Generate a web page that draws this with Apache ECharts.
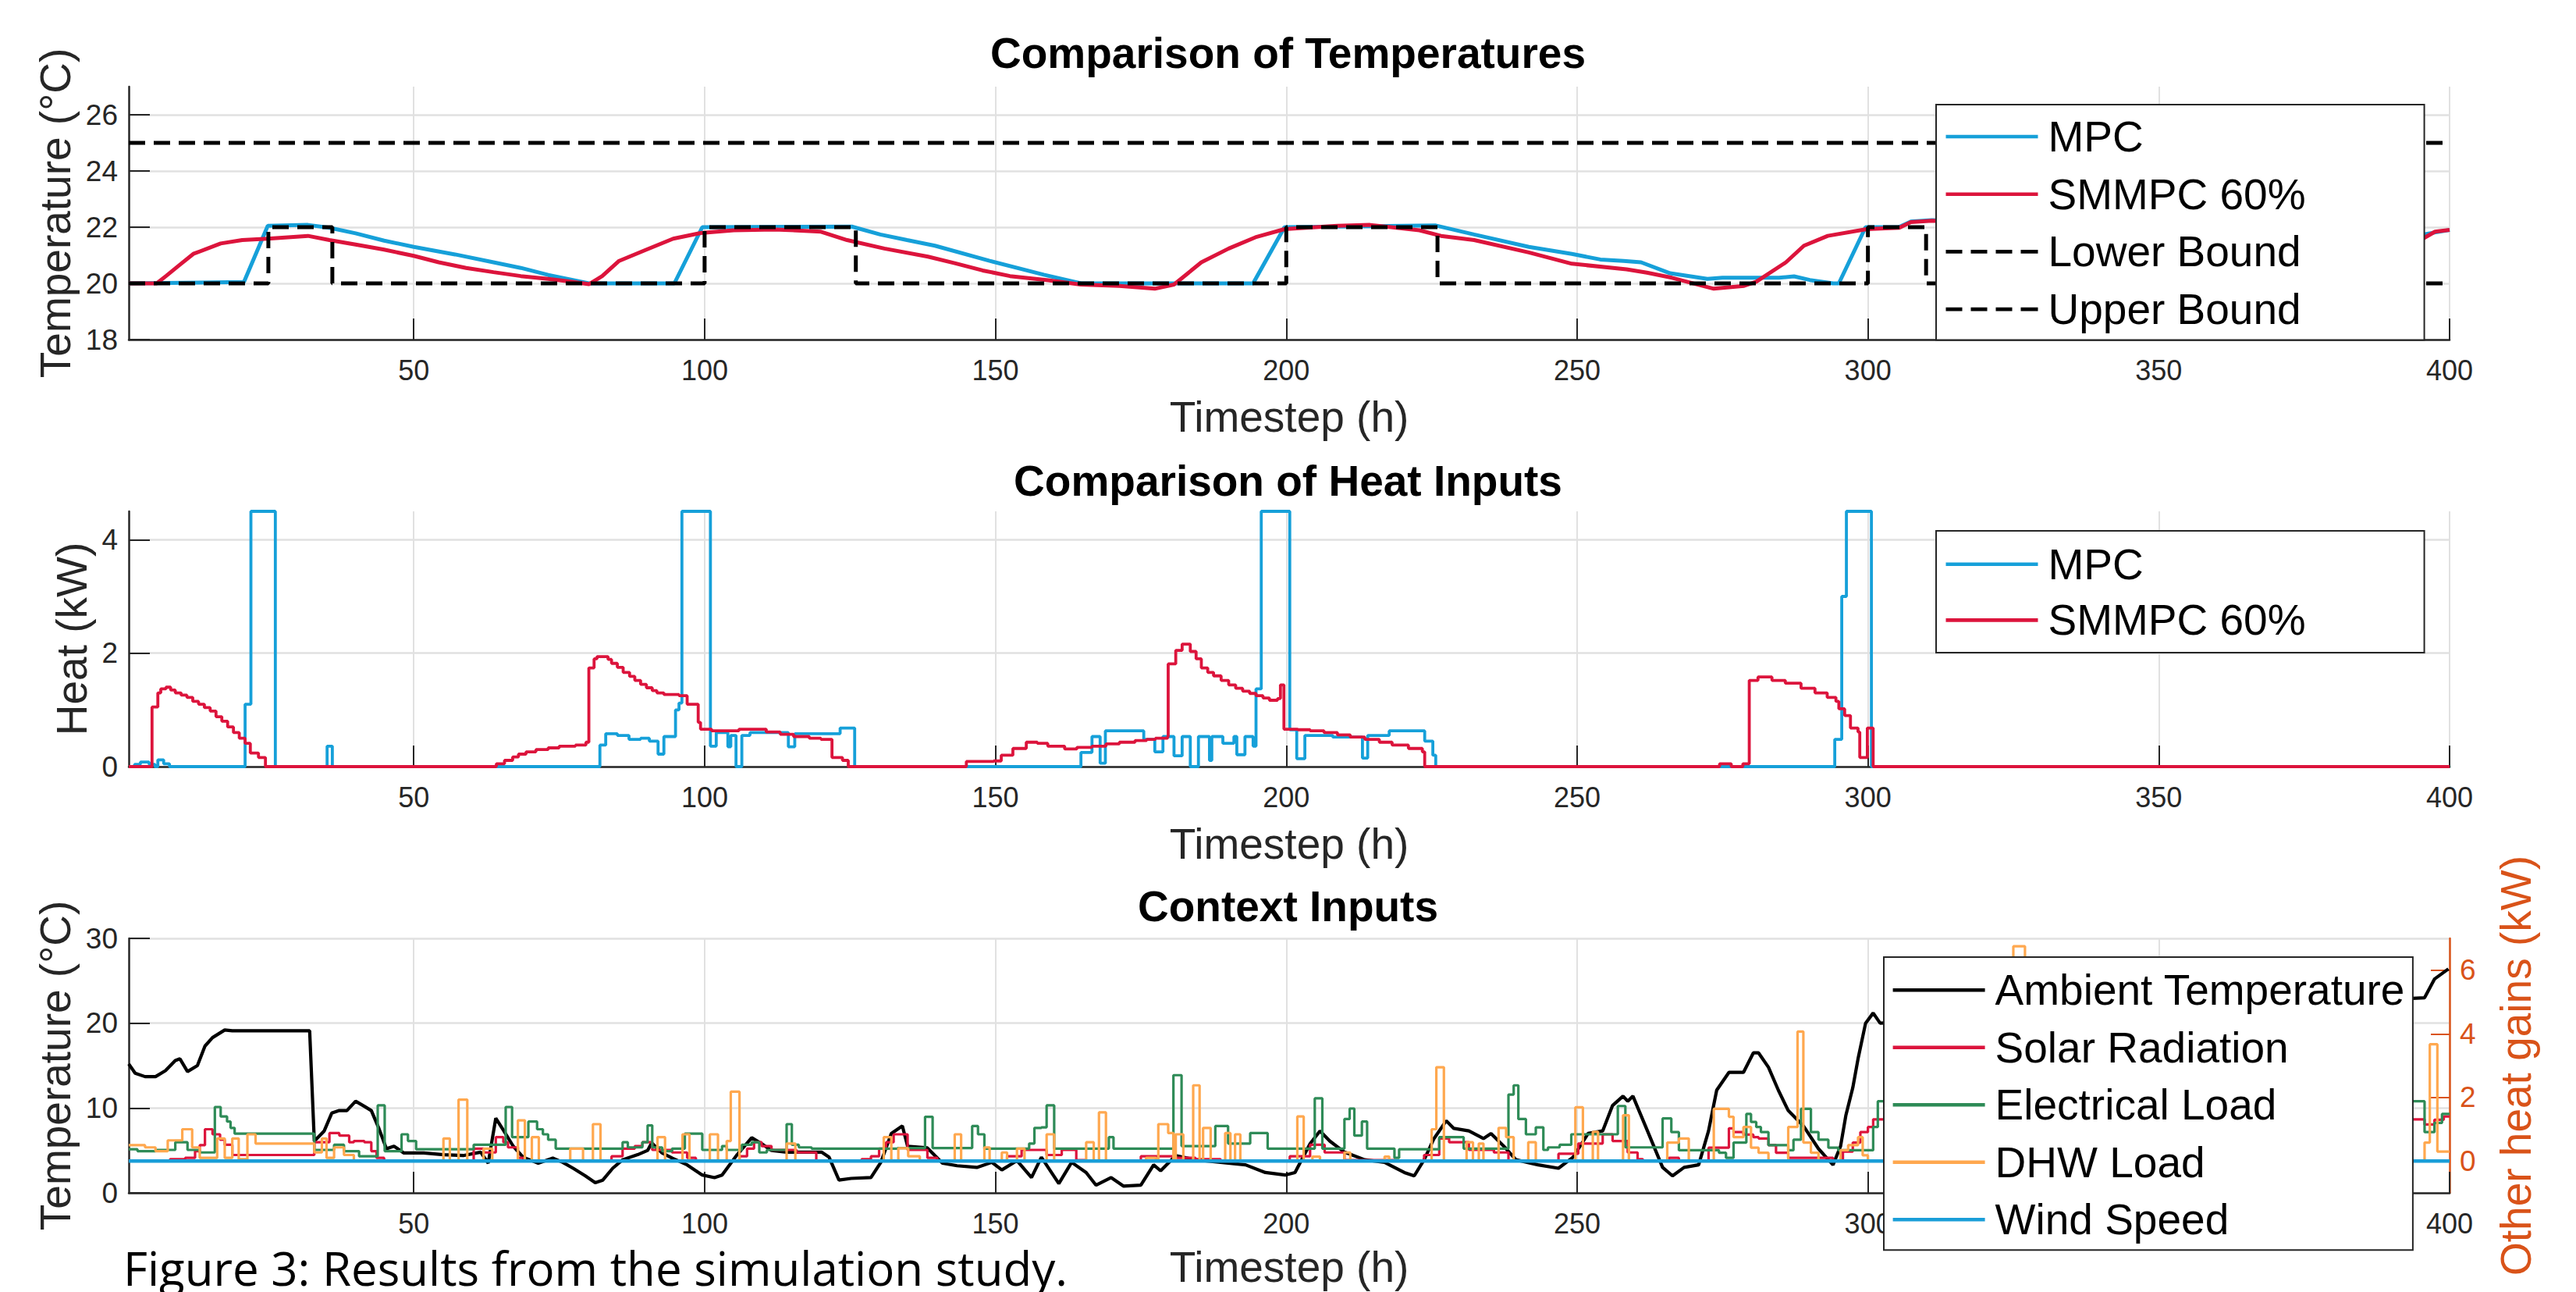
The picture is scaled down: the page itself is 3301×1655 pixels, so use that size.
<!DOCTYPE html>
<html><head><meta charset="utf-8">
<script src="https://cdn.jsdelivr.net/npm/echarts@6/dist/echarts.min.js"></script>
<style>html,body{margin:0;padding:0;background:#fff}#c{width:3301px;height:1655px}</style>
</head><body><div id="c"></div>
<script>
// ---------- tick labels ----------
const xTicks = [50,100,150,200,250,300,350,400];
const xLabelsCtx = [50,100,150,200,250,300,400];   // "350" is hidden behind the legend in the bottom panel
const tempTicks = [18,20,22,24,26];
const heatTicks = [0,2,4];
const ctxTempTicks = [0,10,20,30];
const gainTicks = [0,2,4,6];

// ---------- Panel 1 : Comparison of Temperatures ----------
const mpcTemp = [[1,20],[20.8,20.05],[24.9,22.05],[31.8,22.08],[35.5,21.98],[40,21.78],[44.9,21.52],[50,21.3],[57.1,21.03],[63.7,20.75],[68.4,20.55],[73.1,20.3],[80.1,20.0],[94.8,20.0],[99.6,22.0],[125.3,22.02],[130.2,21.74],[134.8,21.54],[139.6,21.34],[149,20.8],[158.3,20.31],[164.7,20.0],[194.3,20.0],[199.7,22.0],[212,22.03],[225.7,22.06],[232.3,21.74],[241.7,21.3],[249.1,21.05],[254,20.85],[258,20.8],[261,20.75],[266,20.36],[272.4,20.16],[275,20.2],[284.7,20.2],[287.3,20.25],[290,20.12],[294,20.0],[295,20.0],[299.6,22.0],[305.3,22.0],[307.4,22.2],[311,22.25],[395.4,21.74],[400,21.9]];
const smmpcTemp = [[1,20],[5.8,20.0],[7.4,20.26],[9.7,20.65],[12.1,21.05],[16.8,21.42],[20.5,21.54],[24.9,21.59],[31.8,21.69],[35.5,21.54],[40,21.38],[44.9,21.2],[50,20.98],[54.3,20.75],[59,20.55],[63.7,20.4],[68.4,20.26],[73.1,20.16],[77,20.06],[80.1,19.97],[82.4,20.26],[85.3,20.8],[90,21.2],[94.6,21.59],[99.3,21.79],[105,21.89],[112,21.92],[120,21.84],[124.5,21.54],[130.9,21.24],[138.4,20.95],[143,20.72],[147.8,20.46],[152.5,20.26],[159.1,20.11],[164.7,19.96],[171.3,19.91],[177.4,19.81],[180.7,19.96],[185.4,20.75],[190.1,21.24],[194.7,21.64],[199.7,21.93],[208.8,22.05],[214.4,22.08],[222.9,21.89],[226.6,21.69],[232.3,21.54],[241.7,21.1],[249.1,20.7],[258.5,20.5],[262,20.38],[266.3,20.2],[273.5,19.81],[278.7,19.91],[280.8,20.06],[285.9,20.75],[289,21.34],[293.1,21.69],[299.8,21.93],[305.4,21.98],[307.4,22.18],[311,22.23],[395.4,21.59],[397.5,21.84],[400,21.9]];
const lowerBound = [[1,20],[25,20],[25,22],[36,22],[36,20],[100,20],[100,22],[126,22],[126,20],[200,20],[200,22],[226,22],[226,20],[300,20],[300,22],[310,22],[310,20],[400,20]];
const upperBound = [[1,25],[400,25]];

// ---------- Panel 2 : Comparison of Heat Inputs (step values) ----------
const mpcHeat = [[1,0],[2,0.04],[3,0.08],[4.5,0.04],[5.5,0],[6,0.12],[7,0.05],[8,0],[21,1.1],[22,4.5],[26.2,0],[35.1,0.36],[36,0],[82,0.38],[83,0.58],[85,0.55],[87,0.48],[89,0.5],[90.5,0.45],[92,0.22],[93,0.53],[95,1.0],[95.6,1.12],[96.1,4.5],[101,0.36],[102,0.6],[104,0.35],[104.5,0.55],[105.4,0],[106.4,0.55],[107.8,0.6],[114.4,0.35],[115.5,0.58],[123.3,0.68],[125.8,0],[164.7,0.25],[166.6,0.53],[168,0.06],[168.9,0.63],[175.5,0.48],[177.4,0.26],[178.8,0.53],[180.7,0.19],[182.1,0.53],[183.5,0],[184.9,0.53],[186.8,0.11],[187.2,0.53],[189.1,0.41],[191,0.53],[191.5,0.21],[192.9,0.53],[194.3,0.36],[194.8,1.37],[195.7,4.5],[200.6,0.65],[201.8,0.14],[203.2,0.55],[208,0.52],[213.1,0.15],[214,0.55],[217.7,0.63],[223.8,0.45],[225.2,0.2],[225.7,0],[294.3,0.48],[295.5,3.0],[296.3,4.5],[300.6,0],[400,0]];
const smmpcHeat = [[1,0],[5,1.05],[6,1.3],[6.5,1.37],[7.4,1.4],[8.2,1.35],[9,1.3],[10,1.26],[11,1.22],[12,1.15],[13,1.1],[14,1.04],[15,0.98],[16,0.88],[17,0.8],[18,0.7],[19,0.6],[20,0.5],[21,0.41],[21.9,0.24],[23.3,0.16],[24.5,0],[64.2,0.05],[65.6,0.11],[67,0.17],[68,0.22],[69.3,0.26],[71,0.3],[73.1,0.33],[75,0.36],[77.8,0.38],[79.6,0.43],[80.1,1.74],[81,1.9],[81.5,1.94],[83.4,1.89],[84,1.82],[85,1.75],[86,1.66],[87.1,1.59],[88,1.52],[89,1.45],[90,1.39],[91,1.34],[91.8,1.3],[93,1.27],[95.6,1.25],[97,1.1],[98.9,0.78],[99.3,0.66],[101.2,0.63],[105.9,0.66],[110.6,0.61],[113,0.57],[115.3,0.53],[118,0.5],[120,0.48],[121.9,0.16],[123.7,0.11],[124.7,0],[145,0.09],[149.7,0.1],[151,0.2],[153,0.32],[155.3,0.43],[157.2,0.41],[159,0.36],[161.9,0.31],[164,0.34],[166.6,0.36],[169,0.4],[171.3,0.43],[174,0.46],[176,0.48],[177.5,0.5],[179.6,0.53],[179.7,1.81],[181,2.05],[182.1,2.16],[183.5,2.03],[184.5,1.9],[185.4,1.74],[186.5,1.66],[187.5,1.6],[188.8,1.52],[190.1,1.44],[191.3,1.38],[192.5,1.33],[193.7,1.29],[194.8,1.25],[196,1.21],[197.1,1.17],[198.5,1.2],[199,1.44],[199.6,0.66],[202,0.65],[204.1,0.63],[206.5,0.6],[208.8,0.56],[211,0.52],[213.5,0.48],[216,0.43],[218.2,0.38],[221,0.32],[223.4,0.26],[223.8,0],[274.5,0.05],[276.5,0],[278.5,0.05],[279.6,1.52],[281.1,1.58],[283.5,1.52],[285.8,1.47],[288.5,1.38],[290.9,1.3],[293,1.22],[294.5,1.15],[295,1.02],[296,0.9],[297,0.68],[298.3,0.61],[298.6,0.16],[299.9,0.68],[300.9,0],[400,0]];

// ---------- Panel 3 : Context Inputs ----------
const ambientTemp = [[1,15.2],[2.1,14.1],[3.8,13.7],[5.6,13.7],[7.3,14.4],[9,15.6],[9.8,15.8],[11.1,14.3],[12.8,15.0],[14.1,17.3],[15.4,18.3],[17.5,19.2],[18.8,19.1],[32.1,19.1],[32.9,6.1],[34.6,7.3],[35.9,9.4],[37.2,9.7],[38.5,9.7],[40,10.8],[41.5,10.2],[42.7,9.7],[44,7.6],[45.3,5.2],[46.6,5.5],[48.3,4.7],[51.7,4.7],[55.1,4.5],[58.5,4.4],[61.5,4.8],[62.8,3.5],[64.1,8.8],[65.4,7.4],[67.1,5.5],[68.8,4.2],[71.4,3.5],[73.9,4.1],[75.6,3.6],[77.4,2.9],[79.5,2.0],[81.2,1.2],[82.5,1.5],[84.2,2.9],[85.9,3.9],[88.5,4.5],[90.2,5.0],[90.9,5.9],[92.7,4.7],[94.4,4.1],[97,3.3],[99.6,2.1],[101.7,1.8],[103,2.1],[105.6,4.5],[108.1,6.5],[109.8,5.8],[111.5,5.0],[114.1,4.8],[120.1,4.8],[121.4,4.2],[123.1,1.5],[125.2,1.7],[128.6,1.8],[130.3,3.6],[132.1,7.0],[134,7.9],[134.9,5.5],[138.3,5.3],[140.9,3.5],[143.4,3.2],[146.8,3.0],[149.4,3.6],[151.1,2.7],[153.7,3.8],[156.2,1.8],[157.9,4.2],[160.9,1.1],[163.1,3.6],[165.6,2.4],[167.3,0.9],[169.9,1.8],[172,0.8],[175,0.9],[177.2,3.3],[178.4,2.6],[181,4.4],[184.4,3.9],[188.7,3.6],[193,3.3],[196.4,2.4],[199.8,2.1],[201.5,2.4],[204.1,5.8],[205.8,7.3],[207.5,6.1],[210,4.8],[213.5,3.9],[216.9,3.6],[220.3,2.4],[222,2.0],[223.7,3.9],[225.4,6.4],[227.5,8.5],[228.8,7.6],[231.4,7.3],[233.9,6.4],[235.2,7.0],[237.4,5.5],[239.5,3.9],[243.3,3.3],[246.8,2.9],[249.3,4.2],[251.9,7.0],[254.4,7.3],[256.1,10.3],[257.9,11.4],[258.7,10.8],[259.6,11.4],[262.1,7.3],[264.7,3.0],[266.4,2.0],[268.4,3.0],[270.9,3.3],[272.6,7.3],[274,12.1],[275.2,13.3],[276.1,14.2],[278.6,14.2],[280.3,16.5],[281.2,16.5],[282.9,14.8],[284.6,12.1],[286.3,9.7],[288.9,7.9],[291.5,5.2],[293.2,3.9],[294,3.3],[295.3,5.5],[296.2,9.1],[297.4,12.4],[298.3,15.8],[299.6,20],[300.9,21.2],[302.1,20],[395.7,23],[397.4,25.2],[399.8,26.4]];
const solarGain = [[1,0],[8.1,0.06],[10.7,0.1],[12.4,0.31],[13.2,0.5],[14.1,1.0],[15.4,0.84],[16.7,0.67],[17.5,0.51],[18.8,0.19],[32.9,0.59],[35.5,0.88],[37.2,0.8],[38.9,0.59],[39.7,0.63],[41.5,0.59],[42.7,0.31],[43.6,0.1],[44.9,0],[60.3,0.39],[62,0.27],[64.1,0.75],[65.4,0.59],[66.2,0.43],[67.9,0.1],[68.8,0],[84,0.15],[85.9,0.39],[88,0.47],[89.3,0.59],[91,0.35],[94.4,0.27],[97,0.1],[98.5,0],[106,0.15],[107.3,0.39],[108.5,0.59],[109.8,0.47],[111.5,0.35],[115.8,0.27],[119.2,0],[127,0.06],[128.6,0.15],[130,0.39],[131.2,0.59],[132.5,0.84],[134.9,0.35],[138.3,0.1],[140,0],[152,0.15],[154.5,0.35],[158.8,0.19],[161.4,0.35],[163.9,0.03],[165.6,0],[175,0.15],[181,0.1],[184.4,0.06],[188.7,0],[200.6,0.15],[204.1,0.51],[206.6,0.27],[210,0.03],[218.6,0],[223.7,0.19],[226.3,0.71],[228,0.59],[231.4,0.35],[235.7,0.27],[238.2,0],[246.8,0.23],[250.2,0.55],[254.4,0.84],[256.1,0.63],[258.7,0.27],[260.4,0.06],[261.3,0],[265.8,0.1],[267.5,0],[272.6,0.42],[276.1,1.03],[276.9,0.91],[278.6,0.83],[280.3,0.75],[281.2,0.71],[282.9,0.5],[284.2,0.26],[286.3,0.1],[294,0],[295.7,0.3],[297.4,0.58],[298.7,0.91],[300,1.07],[300.9,1.31],[395.7,1.15],[397.4,1.3],[399,1.4],[400,1.4]];
const elecLoad = [[1,0.37],[2.5,0.31],[5.6,0.35],[9,0.59],[11.1,0.35],[13.2,0.27],[15.8,1.7],[16.8,1.4],[17.9,1.24],[18.5,1.04],[19.2,0.86],[32.9,0.35],[36.3,0.51],[38,0.31],[40.6,0.15],[43.8,1.75],[45,0.31],[47.9,0.84],[49,0.63],[50.4,0.37],[60.3,0.51],[65.8,1.7],[66.9,0.75],[69.7,1.24],[71.2,1.0],[72.2,0.84],[73.1,0.67],[74.4,0.39],[85.9,0.59],[86.8,0.43],[89.3,0.59],[90.2,1.12],[91,0.43],[92.7,0.31],[94.4,0.39],[96.6,0.86],[99.6,0.35],[103,0.47],[103.8,0.35],[106.4,0.51],[108.1,0.59],[109.4,0.27],[110.7,0.35],[114.1,1.16],[115,0.51],[116.2,0.43],[118.4,0.39],[133.2,0.41],[137.9,1.39],[139.2,0.41],[146,1.1],[147,0.84],[148.1,0.39],[155.8,0.55],[156.7,1.04],[157.9,1.06],[158.8,1.75],[160.1,0.39],[169.5,0.75],[170.3,0.39],[180.6,2.7],[182,0.47],[187.8,1.1],[190,0.55],[193.8,0.88],[196.8,0.39],[204.9,1.97],[206.2,0.39],[210,1.32],[210.9,1.65],[211.7,0.8],[213,1.24],[213.9,0.39],[218.6,0.1],[219.4,0.37],[226.3,0.75],[230.5,0.39],[238.2,2.09],[239.1,2.38],[239.9,1.32],[241.2,0.84],[242.9,1.06],[244.2,0.35],[245,0.43],[247,0.51],[249,0.84],[257,1.73],[258.3,0.43],[264.7,1.34],[266.2,0.91],[267.5,0.34],[274.4,0.26],[275.6,0.1],[276.9,0.58],[279.1,1.48],[279.9,1.23],[280.8,1.07],[281.6,0.91],[282.9,0.5],[286.3,0.34],[287.2,0.67],[288.5,1.64],[290.2,0.91],[291.5,0.67],[293.2,0.42],[294.9,0.34],[300.9,1.07],[301.7,1.88],[395.7,0.91],[397.4,1.2],[398.7,1.48],[400,1.48]];
const dhwLoad = [[1,0.5],[3.8,0.43],[5.6,0.31],[7.7,0.65],[10.2,1.0],[11.9,0.43],[13.2,0.1],[16.2,0.71],[17.5,0.1],[18.8,0.71],[19.9,0.06],[21.4,0.84],[22.8,0.55],[32.9,0.27],[34.2,0.71],[35,0.1],[36.3,0.43],[38,0.19],[39.7,0],[55.1,0.71],[56.2,0],[57.7,1.93],[59.2,0],[62,0.39],[63.5,0],[67.9,1.28],[69.1,0],[70.3,0.75],[71.5,0],[76.9,0.39],[79.1,0],[80.8,1.16],[82.1,0],[91.9,0.75],[93.2,0],[96.2,0.84],[97.4,0],[100.9,0.84],[102.3,0],[103.8,0.63],[104.5,2.18],[106,0],[114.1,0.55],[115.6,0],[130.8,0.75],[132.1,0],[133.3,0.4],[135,0.15],[137,0],[143,0.84],[144.1,0],[148.1,0.43],[149,0],[151.1,0.27],[152,0],[153.7,0.39],[155,0],[158.8,0.84],[160.1,0],[165.6,0.59],[166.9,0],[167.8,1.53],[169,0],[175.9,0.1],[177.6,0],[178,1.16],[179.7,0.88],[180.6,0],[181,0.84],[182.3,0],[184,2.38],[185.1,0],[185.7,1.04],[187,0],[189.5,0.88],[190.4,0],[191.2,0.84],[192.1,0],[201.9,1.4],[203,0],[204.5,0.14],[205.8,0],[210,0.27],[211,0],[216.9,0.14],[217.7,0],[225,1.0],[225.8,2.95],[227.1,0],[231,0.59],[232.1,0],[233.1,0.55],[233.9,0],[236.5,1.04],[237.8,0.75],[239.1,0],[241.6,0.59],[242.9,0],[249.7,1.69],[251,0],[252.7,0.92],[253.6,0],[257.9,1.44],[258.9,0],[265.5,0.58],[267.5,0.71],[269.2,0],[273.5,1.64],[276.1,1.39],[276.9,0.75],[278.6,1.07],[279.9,0.42],[281.2,0.26],[282.9,0],[286.3,1.07],[287.9,4.07],[288.9,0.58],[290.2,0.26],[291.5,0],[295.3,0.34],[296.6,0.5],[298.3,0.75],[299.1,0.18],[300,0],[325,6.75],[327,0],[395.7,0.58],[396.6,3.67],[397.9,0.3],[400,0.3]];
const windSpeed = [[1,0],[400,0]];

// ---------- styling ----------
const AX = '#262626';
const GRIDC = '#e1e1e1';
const FONT = '"Liberation Sans", Arial, Helvetica, sans-serif';
const C_MPC = '#16a0d9', C_SM = '#dc143c', C_GREEN = '#2e8b57', C_ORANGE = '#ffa84f', C_WIND = '#1a9ed8', C_RIGHT = '#d95319';
// legend line samples (aspect kept, so they stay thin lines)
const ICON_SOLID = 'path://M0,0h118v4.6h-118z';
const ICON_DASH = 'path://M0,0h21v4.6h-21zM32,0h21v4.6h-21zM64,0h21v4.6h-21zM96,0h22v4.6h-22z';

function xAx(gi, labels, gap){
  return {type:'value', gridIndex:gi, min:1, max:400,
    name:'Timestep (h)', nameLocation:'middle', nameGap:gap,
    nameTextStyle:{fontSize:55, color:AX, fontFamily:FONT},
    axisLine:{show:true, onZero:false, lineStyle:{color:AX, width:2.5}},
    axisTick:{show:true, inside:true, length:27, customValues:xTicks, lineStyle:{color:AX, width:2}},
    axisLabel:{customValues:labels, fontSize:36, color:AX, margin:21, fontFamily:FONT},
    splitLine:{show:true, lineStyle:{color:GRIDC, width:2}}};
}
function yAx(gi, min, max, ticks, name, gap){
  return {type:'value', gridIndex:gi, min:min, max:max,
    name:name, nameLocation:'middle', nameGap:gap, nameRotate:90,
    nameTextStyle:{fontSize:55, color:AX, fontFamily:FONT},
    axisLine:{show:true, onZero:false, lineStyle:{color:AX, width:2.5}},
    axisTick:{show:true, inside:true, length:27, customValues:ticks, lineStyle:{color:AX, width:2}},
    axisLabel:{customValues:ticks, fontSize:37, color:AX, margin:14, fontFamily:FONT},
    splitLine:{show:true, lineStyle:{color:GRIDC, width:2.5}}};
}
function ln(name, data, xi, yi, color, width, extra){
  return Object.assign({type:'line', name:name, data:data, xAxisIndex:xi, yAxisIndex:yi,
    symbol:'none', showSymbol:false, silent:true, animation:false,
    lineStyle:{color:color, width:width}, itemStyle:{color:color, borderWidth:0}}, extra || {});
}
function legendBox(left, top, items, gap, pad){
  return {orient:'vertical', left:left, top:top,
    data:items.map(function(it){ return {name:it[0], icon:it[1]}; }),
    itemWidth:118, itemHeight:55, itemGap:gap, symbolKeepAspect:true,
    padding:pad, backgroundColor:'#ffffff', borderColor:AX, borderWidth:2, borderRadius:0,
    selectedMode:false, itemStyle:{borderWidth:0},
    textStyle:{fontSize:55, lineHeight:55, color:'#000', fontFamily:FONT, padding:[0,0,0,8]}};
}

const chart = echarts.init(document.getElementById('c'), null, {renderer:'svg', width:3301, height:1655});
chart.setOption({
  animation:false,
  backgroundColor:'#ffffff',
  title:[
    {text:'Comparison of Temperatures', left:'center', top:40, padding:0, textStyle:{fontSize:55, fontWeight:'bold', color:'#000', fontFamily:FONT}},
    {text:'Comparison of Heat Inputs', left:'center', top:588, padding:0, textStyle:{fontSize:55, fontWeight:'bold', color:'#000', fontFamily:FONT}},
    {text:'Context Inputs', left:'center', top:1133, padding:0, textStyle:{fontSize:55, fontWeight:'bold', color:'#000', fontFamily:FONT}}
  ],
  grid:[
    {left:165, right:162, top:111, height:324, outerBoundsMode:'none', containLabel:false},
    {left:165, right:162, top:655, height:327, outerBoundsMode:'none', containLabel:false},
    {left:165, right:162, top:1202, height:326, outerBoundsMode:'none', containLabel:false}
  ],
  xAxis:[xAx(0, xTicks, 71), xAx(1, xTicks, 71), xAx(2, xLabelsCtx, 67)],
  yAxis:[
    yAx(0, 18, 27, tempTicks, 'Temperature (°C)', 62),
    yAx(1, 0, 4.5, heatTicks, 'Heat (kW)', 45),
    yAx(2, 0, 30, ctxTempTicks, 'Temperature (°C)', 62),
    {type:'value', gridIndex:2, position:'right', min:-1, max:7,
      name:'Other heat gains (kW)', nameLocation:'middle', nameGap:57, nameRotate:90,
      nameTextStyle:{fontSize:55, color:C_RIGHT, fontFamily:FONT},
      axisLine:{show:true, onZero:false, lineStyle:{color:C_RIGHT, width:2.5}},
      axisTick:{show:true, inside:true, length:24, customValues:gainTicks, lineStyle:{color:C_RIGHT, width:2}},
      axisLabel:{customValues:gainTicks, fontSize:37, color:C_RIGHT, margin:13, fontFamily:FONT},
      splitLine:{show:false}}
  ],
  legend:[
    legendBox(2481, 134, [['MPC',ICON_SOLID],['SMMPC 60%',ICON_SOLID],['Lower Bound',ICON_DASH],['Upper Bound',ICON_DASH]], 18.7, [13.5,152,12,12.5]),
    legendBox(2481, 680, [['MPC',ICON_SOLID],['SMMPC 60%',ICON_SOLID]], 16.6, [15.3,152,14,12.5]),
    legendBox(2414, 1226, [['Ambient Temperature',ICON_SOLID],['Solar Radiation',ICON_SOLID],['Electrical Load',ICON_SOLID],['DHW Load',ICON_SOLID],['Wind Speed',ICON_SOLID]], 18.5, [14.8,9.5,11.5,11.6])
  ],
  series:[
    ln('MPC', mpcTemp, 0, 0, C_MPC, 5),
    ln('SMMPC 60%', smmpcTemp, 0, 0, C_SM, 5),
    ln('Lower Bound', lowerBound, 0, 0, '#000', 5, {lineStyle:{color:'#000', width:5, type:[21,11]}}),
    ln('Upper Bound', upperBound, 0, 0, '#000', 5, {lineStyle:{color:'#000', width:5, type:[21,11]}}),
    ln('MPC', mpcHeat, 1, 1, C_MPC, 3.8, {step:'end'}),
    ln('SMMPC 60%', smmpcHeat, 1, 1, C_SM, 3.8, {step:'end'}),
    ln('Ambient Temperature', ambientTemp, 2, 2, '#000', 4.2),
    ln('Solar Radiation', solarGain, 2, 3, C_SM, 3.2, {step:'end'}),
    ln('Electrical Load', elecLoad, 2, 3, C_GREEN, 3.2, {step:'end'}),
    ln('DHW Load', dhwLoad, 2, 3, C_ORANGE, 3.2, {step:'end'}),
    ln('Wind Speed', windSpeed, 2, 3, C_WIND, 4.5)
  ],
  graphic:[
    {type:'text', left:158, top:1594, silent:true,
     style:{text:'Figure 3: Results from the simulation study.', font:'60px "Open Sans", "Noto Sans", sans-serif', fill:'#000'}}
  ]
});
</script>
</body></html>
